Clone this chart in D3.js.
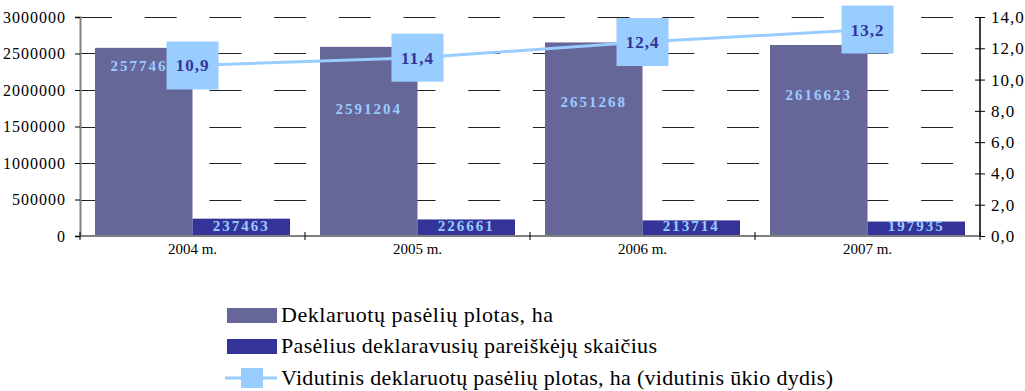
<!DOCTYPE html>
<html>
<head>
<meta charset="utf-8">
<script src="https://cdn.jsdelivr.net/npm/d3@7/dist/d3.min.js"></script>
<style>
  html, body { margin: 0; padding: 0; background: #fff; }
  svg { display: block; }
  svg text { font-family: "Liberation Serif", "Times New Roman", serif; }
</style>
</head>
<body>
<svg id="chart" width="1025" height="391"></svg>
<script>
// Data
const years = ["2004 m.", "2005 m.", "2006 m.", "2007 m."];
const declaredArea = [2577460, 2591204, 2651268, 2616623];     // ha
const applicants = [237463, 226661, 213714, 197935];           // count
const avgFarmSize = [10.9, 11.4, 12.4, 13.2];                  // ha
const leftTicks = [0, 500000, 1000000, 1500000, 2000000, 2500000, 3000000];
const rightTicks = [0, 2, 4, 6, 8, 10, 12, 14];
const legendLabels = [
  "Deklaruotų pasėlių plotas, ha",
  "Pasėlius deklaravusių pareiškėjų skaičius",
  "Vidutinis deklaruotų pasėlių plotas, ha (vidutinis ūkio dydis)"
];

// Layout
const plot = { left: 80, right: 980, top: 17, bottom: 236 };
const colArea = "#666699", colApp = "#333399", colLine = "#99CCFF";
// vertical drop of the area labels below the bar top
const areaLabelDrop = [23, 67, 65, 55];
// legend text widths
const legendWidths = [272, 376, 552];

const svg = d3.select("#chart");

const x = d3.scaleBand().domain(years).range([plot.left, plot.right]).paddingInner(0).paddingOuter(0);
const inner = d3.scaleBand().domain([0, 1]).range([15, x.bandwidth() - 15]);
const yL = d3.scaleLinear().domain([0, 3000000]).range([plot.bottom, plot.top]);
const yR = d3.scaleLinear().domain([0, 14]).range([plot.bottom, plot.top]);

// dashed gridlines
svg.append("g").selectAll("line")
  .data(leftTicks.filter(d => d > 0))
  .join("line")
  .attr("x1", plot.left).attr("x2", plot.right - 20)
  .attr("y1", d => Math.round(yL(d)) + 0.5).attr("y2", d => Math.round(yL(d)) + 0.5)
  .attr("stroke", "#222").attr("stroke-width", 1)
  .attr("stroke-dasharray", "32,32.7");

// bars
const g = svg.append("g");
g.selectAll("rect.area").data(declaredArea).join("rect")
  .attr("class", "area")
  .attr("x", (d, i) => x(years[i]) + inner(0))
  .attr("width", inner.bandwidth())
  .attr("y", d => yL(d))
  .attr("height", d => plot.bottom - yL(d))
  .attr("fill", colArea);
g.selectAll("rect.app").data(applicants).join("rect")
  .attr("class", "app")
  .attr("x", (d, i) => x(years[i]) + inner(1))
  .attr("width", inner.bandwidth())
  .attr("y", d => yL(d))
  .attr("height", d => plot.bottom - yL(d))
  .attr("fill", colApp);

// bar labels
g.selectAll("text.alab").data(declaredArea).join("text")
  .attr("class", "alab")
  .attr("x", (d, i) => x(years[i]) + inner(0) + inner.bandwidth() / 2)
  .attr("y", (d, i) => yL(d) + areaLabelDrop[i])
  .attr("text-anchor", "middle")
  .attr("fill", colLine).attr("font-weight", "bold").attr("font-size", 15)
  .attr("letter-spacing", 2)
  .text(d => String(d));
g.selectAll("text.plab").data(applicants).join("text")
  .attr("class", "plab")
  .attr("x", (d, i) => x(years[i]) + inner(1) + inner.bandwidth() / 2)
  .attr("y", plot.bottom - 5)
  .attr("text-anchor", "middle")
  .attr("fill", colLine).attr("font-weight", "bold").attr("font-size", 15)
  .attr("letter-spacing", 2)
  .text(d => String(d));

// axes
const axL = svg.append("g").attr("transform", `translate(${plot.left},0)`)
  .call(d3.axisLeft(yL).tickValues(leftTicks).tickSize(5).tickPadding(9).tickFormat(d3.format("d")));
axL.select(".domain").attr("stroke", "#808080").attr("stroke-width", 2);
axL.selectAll(".tick line").attr("stroke", "#000");
axL.selectAll("text").attr("font-size", 16).attr("letter-spacing", 1).attr("fill", "#000");

const axR = svg.append("g").attr("transform", `translate(${plot.right},0)`)
  .call(d3.axisRight(yR).tickValues(rightTicks).tickSize(5).tickPadding(6).tickFormat(d => d3.format(".1f")(d).replace(".", ",")));
axR.select(".domain").attr("stroke", "#000").attr("stroke-width", 1.5).attr("d", `M0,${plot.top}V${plot.bottom}`);
axR.selectAll(".tick line").attr("x1", -5).attr("stroke", "#000");
axR.selectAll("text").attr("font-size", 17).attr("letter-spacing", 1).attr("fill", "#000");

// category axis
const axB = svg.append("g").attr("transform", `translate(0,${plot.bottom})`);
axB.append("line").attr("x1", plot.left).attr("x2", plot.right).attr("y1", 0).attr("y2", 0)
  .attr("stroke", "#808080").attr("stroke-width", 2);
axB.selectAll("line.tk").data(years.map(y => x(y)).concat([plot.right])).join("line")
  .attr("class", "tk")
  .attr("x1", d => d).attr("x2", d => d).attr("y1", -4).attr("y2", 4)
  .attr("stroke", "#000");
axB.selectAll("text").data(years).join("text")
  .attr("x", d => x(d) + x.bandwidth() / 2).attr("y", 18)
  .attr("text-anchor", "middle").attr("font-size", 15).attr("fill", "#000")
  .text(d => d);

// average farm size line with markers
const cx = (d, i) => x(years[i]) + x.bandwidth() / 2;
svg.append("path")
  .datum(avgFarmSize)
  .attr("d", d3.line().x(cx).y(d => yR(d)))
  .attr("fill", "none").attr("stroke", colLine).attr("stroke-width", 3);
const mk = svg.append("g").selectAll("g").data(avgFarmSize).join("g")
  .attr("transform", (d, i) => `translate(${cx(d, i)},${yR(d)})`);
mk.append("rect").attr("x", -26).attr("y", -24).attr("width", 52).attr("height", 48).attr("fill", colLine);
mk.append("text").attr("y", 6).attr("text-anchor", "middle")
  .attr("fill", colApp).attr("font-weight", "bold").attr("font-size", 17).attr("letter-spacing", 1)
  .text(d => d3.format(".1f")(d).replace(".", ","));

// legend
const lg = svg.append("g");
const rowY = [315, 346, 378];
lg.append("rect").attr("x", 227).attr("y", rowY[0] - 7).attr("width", 50).attr("height", 15).attr("fill", colArea);
lg.append("rect").attr("x", 227).attr("y", rowY[1] - 7).attr("width", 50).attr("height", 15).attr("fill", colApp);
lg.append("line").attr("x1", 225).attr("x2", 277).attr("y1", rowY[2]).attr("y2", rowY[2])
  .attr("stroke", colLine).attr("stroke-width", 3);
lg.append("rect").attr("x", 241).attr("y", rowY[2] - 10).attr("width", 22).attr("height", 20).attr("fill", colLine);
lg.selectAll("text").data(legendLabels).join("text")
  .attr("x", 281).attr("y", (d, i) => rowY[i] + 7)
  .attr("font-size", 22).attr("fill", "#000")
  .attr("textLength", (d, i) => legendWidths[i]).attr("lengthAdjust", "spacing")
  .text(d => d);
</script>
</body>
</html>
